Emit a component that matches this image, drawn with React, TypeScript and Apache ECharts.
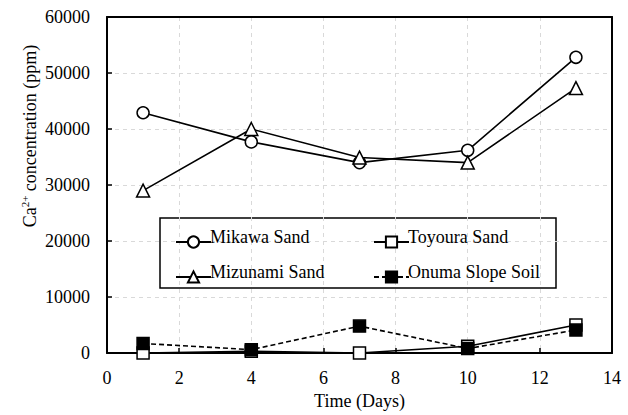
import React, { useEffect, useRef } from "react";
import * as echarts from "echarts";

const days = [1, 4, 7, 10, 13];
const mikawa = [42900, 37700, 34000, 36200, 52800];
const toyoura = [0, 300, 0, 1200, 5000];
const mizunami = [29000, 40000, 34900, 34000, 47300];
const onuma = [1700, 600, 4800, 800, 4100];
const xTicks = [0, 14, 2];
const yTicks = [0, 60000, 10000];
const seriesNames = ["Mikawa Sand", "Toyoura Sand", "Mizunami Sand", "Onuma Slope Soil"];

const FONT = "Times New Roman";

const pts = (vals: number[]) => days.map((d, i) => [d, vals[i]]);

export default function App() {
  const ref = useRef<HTMLDivElement>(null);
  useEffect(() => {
    if (!ref.current) return;
    const chart = echarts.init(ref.current, undefined, { renderer: "svg" });
    const mk = (name: string, vals: number[], symbol: string, fill: string, dashed: boolean) => ({
      name,
      type: "line",
      data: pts(vals),
      symbol,
      symbolSize: symbol === "triangle" ? 13 : 12,
      lineStyle: { color: "#000", width: 1.6, type: dashed ? [5, 3] : "solid" },
      itemStyle: { color: fill, borderColor: "#000", borderWidth: 1.5 },
      z: 4,
    });
    const frameAxis = {
      show: true,
      axisLine: { show: true, onZero: false, lineStyle: { color: "#000", width: 2 } },
      axisTick: { show: false },
      axisLabel: { show: false },
      splitLine: { show: false },
    };
    const leg = (name: string, left: number, top: number) => ({
      data: [name],
      left,
      top,
      itemWidth: 35,
      itemHeight: 14,
      formatter: () => "",
      selectedMode: false,
    });
    const legLabel = (name: string, x: number, y: number) => ({
      type: "text",
      z: 10,
      x,
      y,
      style: { text: name, fontFamily: FONT, fontSize: 18, fill: "#000", align: "left", verticalAlign: "middle" },
    });
    chart.setOption({
      animation: false,
      textStyle: { fontFamily: FONT },
      grid: { left: 107, right: 16, top: 17, bottom: 62 },
      xAxis: [
        {
          type: "value",
          min: xTicks[0],
          max: xTicks[1],
          interval: xTicks[2],
          name: "Time (Days)",
          nameLocation: "middle",
          nameGap: 30,
          nameTextStyle: { fontFamily: FONT, fontSize: 18, color: "#000" },
          axisLine: { show: true, onZero: false, lineStyle: { color: "#000", width: 2 } },
          axisTick: { show: true, inside: true, length: 5, lineStyle: { color: "#000", width: 1.5 } },
          axisLabel: { fontFamily: FONT, fontSize: 18, color: "#000", margin: 16 },
          splitLine: { show: true, lineStyle: { color: "#d9d9d9", type: [4, 4], width: 1 } },
          z: 3,
        },
        { ...frameAxis, type: "value", position: "top", min: xTicks[0], max: xTicks[1], interval: xTicks[2], z: 3 },
      ],
      yAxis: [
        {
          type: "value",
          min: yTicks[0],
          max: yTicks[1],
          interval: yTicks[2],
          axisLine: { show: true, onZero: false, lineStyle: { color: "#000", width: 2 } },
          axisTick: { show: true, inside: true, length: 5, lineStyle: { color: "#000", width: 1.5 } },
          axisLabel: { fontFamily: FONT, fontSize: 18, color: "#000", margin: 17, formatter: (v: number) => String(v) },
          splitLine: { show: true, lineStyle: { color: "#d9d9d9", type: [4, 4], width: 1 } },
          z: 3,
        },
        { ...frameAxis, type: "value", position: "right", min: yTicks[0], max: yTicks[1], interval: yTicks[2], z: 3 },
      ],
      legend: [
        leg(seriesNames[0], 170, 230),
        leg(seriesNames[2], 170, 265),
        leg(seriesNames[1], 368, 230),
        leg(seriesNames[3], 368, 265),
      ],
      graphic: [
        {
          type: "rect",
          z: 1,
          shape: { x: 160, y: 218, width: 396, height: 70 },
          style: { fill: "#fff", stroke: "#000", lineWidth: 1.5 },
        },
        legLabel(seriesNames[0], 210, 237),
        legLabel(seriesNames[2], 210, 272),
        legLabel(seriesNames[1], 408, 237),
        legLabel(seriesNames[3], 408, 272),
        {
          type: "text",
          x: 29,
          y: 136,
          rotation: Math.PI / 2,
          style: {
            text: "{a|Ca}{s|2+}{a| concentration (ppm)}",
            align: "center",
            verticalAlign: "middle",
            rich: {
              a: { fontFamily: FONT, fontSize: 18, lineHeight: 20, fill: "#000", verticalAlign: "bottom" },
              s: { fontFamily: FONT, fontSize: 11, lineHeight: 20, fill: "#000", verticalAlign: "top" },
            },
          },
        },
      ],
      series: [
        mk(seriesNames[0], mikawa, "circle", "#fff", false),
        mk(seriesNames[1], toyoura, "rect", "#fff", false),
        mk(seriesNames[2], mizunami, "triangle", "#fff", false),
        mk(seriesNames[3], onuma, "rect", "#000", true),
      ],
    });
    return () => chart.dispose();
  }, []);
  return <div ref={ref} style={{ width: 628, height: 415, position: "absolute", left: 0, top: 0 }} />;
}
